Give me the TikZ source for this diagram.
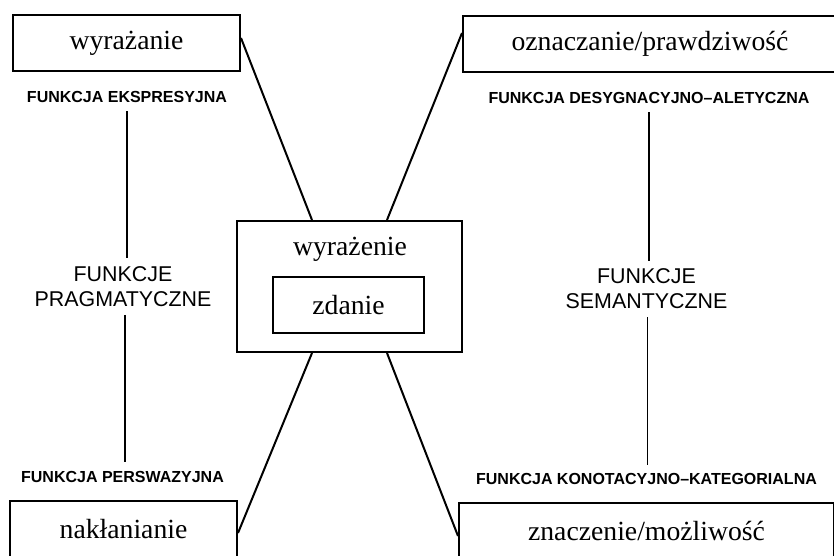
\documentclass[tikz,border=0pt]{standalone}
\usepackage{fontspec}
\setmainfont{Liberation Serif}
\newfontfamily\fnfont{Liberation Sans}
\begin{document}
\begin{tikzpicture}[x=0.5pt,y=-0.5pt,
  box/.style={draw, line width=1pt, inner sep=0pt,
              font=\fontsize{13.85}{16}\selectfont},
  fn/.style={inner xsep=0pt, inner ysep=4pt,
             font=\fnfont\bfseries\fontsize{8}{9}\selectfont},
  group/.style={inner xsep=0pt, inner ysep=4pt, align=center,
                font=\fnfont\fontsize{10.7}{12.5}\selectfont},
  link/.style={line width=1pt},
  stem/.style={line width=0.8pt}]
\useasboundingbox (0,0) rectangle (834,556);

% the four functions of the utterance
\node[box, minimum width=113.5pt, minimum height=28pt] (expr) at (126.5,43) {wyrażanie};
\node[box, minimum width=187pt, minimum height=28pt] (desig) at (650,44) {oznaczanie/prawdziwość};
\node[box, minimum width=113.5pt, minimum height=28pt] (pers) at (123.5,529) {nakłanianie};
\node[box, minimum width=187.5pt, minimum height=28pt] (conn) at (646.5,531) {znaczenie/możliwość};

% the utterance with the sentence inside it
\node[box, minimum width=112.5pt, minimum height=65.5pt] (utt) at (349.5,286.5) {};
\node[font=\fontsize{13.85}{16}\selectfont, inner sep=0pt] (uttlabel) at (350,249) {wyrażenie};
\node[box, minimum width=75.5pt, minimum height=28pt] (sent) at (348.5,305) {zdanie};

% function labels
\node[fn] (fexpr) at (127,97) {FUNKCJA EKSPRESYJNA};
\node[group] (fprag) at (123,286.5) {FUNKCJE\\PRAGMATYCZNE};
\node[fn] (fpers) at (122.5,476.5) {FUNKCJA PERSWAZYJNA};
\node[fn] (fdesig) at (649,98) {FUNKCJA DESYGNACYJNO–ALETYCZNA};
\node[group] (fsem) at (646.5,289) {FUNKCJE\\SEMANTYCZNE};
\node[fn] (fconn) at (646.5,479) {FUNKCJA KONOTACYJNO–KATEGORIALNA};

% links between the utterance and the functions
\draw[link] ([yshift=2.5pt]expr.east) -- ([xshift=-18.75pt]utt.north);
\draw[link] ([yshift=5.5pt]desig.west) -- ([xshift=18.75pt]utt.north);
\draw[link] ([xshift=-18.75pt]utt.south) -- ([yshift=-2pt]pers.east);
\draw[link] ([xshift=18.75pt]utt.south) -- ([yshift=-2.5pt]conn.west);

% stems joining the labels
\draw[stem] (fexpr.south) -- (fexpr.south |- fprag.north);
\draw[stem] ([xshift=1pt]fprag.south) -- ([xshift=1pt]fprag.south |- fpers.north);
\draw[stem] (fdesig.south) -- (fdesig.south |- fsem.north);
\draw[stem] ([xshift=0.5pt]fsem.south) -- ([xshift=0.5pt]fsem.south |- fconn.north);
\end{tikzpicture}
\end{document}
